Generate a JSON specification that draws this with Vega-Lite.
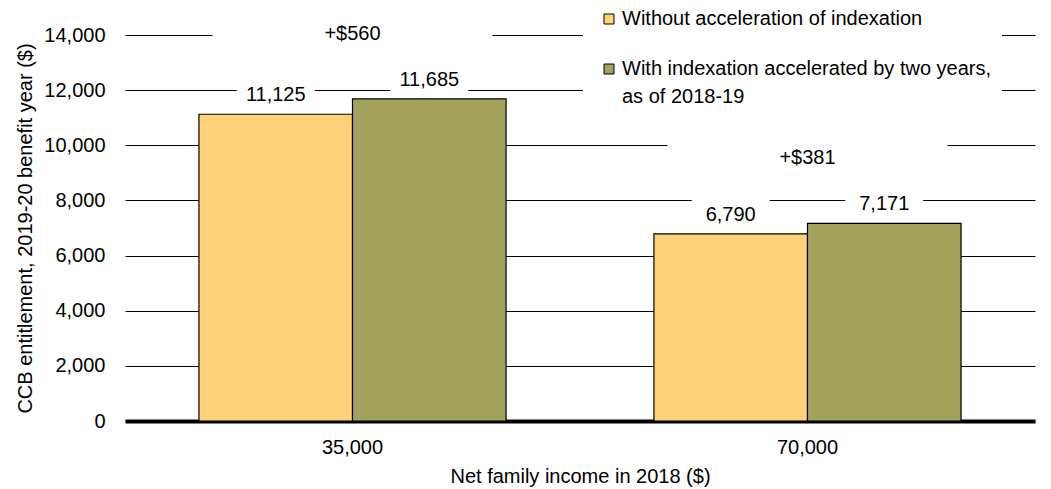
{
  "$schema": "https://vega.github.io/schema/vega-lite/v6.json",
  "width": 910,
  "height": 386,
  "autosize": {"type": "none"},
  "padding": {"left": 125, "top": 35, "right": 16, "bottom": 68},
  "background": "white",
  "config": {
    "font": "Liberation Sans",
    "view": {"stroke": null},
    "text": {"font": "Liberation Sans", "fontSize": 20, "color": "black"},
    "style": {"guide-label": {"lineHeight": 28}}
  },
  "datasets": {
    "bars": [
      {"income": "35,000", "scenario": "Without acceleration of indexation", "value": 11125},
      {"income": "35,000", "scenario": "With indexation accelerated by two years, as of 2018-19", "value": 11685},
      {"income": "70,000", "scenario": "Without acceleration of indexation", "value": 6790},
      {"income": "70,000", "scenario": "With indexation accelerated by two years, as of 2018-19", "value": 7171}
    ],
    "changes": [
      {"income": "35,000", "value": 11685, "change": "+$560"},
      {"income": "70,000", "value": 7171, "change": "+$381"}
    ]
  },
  "encoding": {
    "x": {
      "field": "income",
      "type": "nominal",
      "sort": ["35,000", "70,000"],
      "scale": {"paddingInner": 0.325, "paddingOuter": 0.1625},
      "axis": {
        "title": "Net family income in 2018 ($)",
        "titleFont": "Liberation Sans",
        "titleFontSize": 20,
        "titleFontWeight": "normal",
        "titleColor": "black",
        "titlePadding": 9,
        "labelFont": "Liberation Sans",
        "labelFontSize": 20,
        "labelColor": "black",
        "labelAngle": 0,
        "labelPadding": 16,
        "ticks": false,
        "grid": false,
        "domain": true,
        "domainColor": "black",
        "domainWidth": 4
      }
    },
    "y": {
      "field": "value",
      "type": "quantitative",
      "scale": {"domain": [0, 14000], "nice": false},
      "axis": {
        "title": "CCB entitlement, 2019-20 benefit year ($)",
        "titleFont": "Liberation Sans",
        "titleFontSize": 20,
        "titleFontWeight": "normal",
        "titleColor": "black",
        "titlePadding": 8,
        "labelFont": "Liberation Sans",
        "labelFontSize": 20,
        "labelColor": "black",
        "labelPadding": 20,
        "values": [0, 2000, 4000, 6000, 8000, 10000, 12000, 14000],
        "format": ",d",
        "ticks": false,
        "domain": false,
        "grid": true,
        "gridColor": "black",
        "gridWidth": 1,
        "gridOpacity": 1
      }
    }
  },
  "layer": [
    {
      "data": {"name": "bars"},
      "mark": {"type": "bar", "stroke": "black", "strokeWidth": 1.2, "opacity": 1},
      "encoding": {
        "xOffset": {"field": "scenario", "type": "nominal", "sort": ["Without acceleration of indexation", "With indexation accelerated by two years, as of 2018-19"], "scale": {"paddingInner": 0, "paddingOuter": 0}},
        "color": {
          "field": "scenario",
          "type": "nominal",
          "sort": ["Without acceleration of indexation", "With indexation accelerated by two years, as of 2018-19"],
          "scale": {
            "domain": ["Without acceleration of indexation", "With indexation accelerated by two years, as of 2018-19"],
            "range": ["#FFD27A", "#A2A25C"]
          },
          "legend": {
            "orient": "none",
            "legendX": 458,
            "legendY": -36,
            "title": null,
            "fillColor": "white",
            "padding": 10,
            "symbolType": "square",
            "symbolSize": 100,
            "symbolStrokeColor": "black",
            "symbolStrokeWidth": 1,
            "symbolOffset": 6,
            "symbolOpacity": 1,
            "labelFont": "Liberation Sans",
            "labelFontSize": 20,
            "labelColor": "black",
            "labelLimit": 600,
            "labelOffset": 3,
            "rowPadding": 30,
            "labelExpr": "datum.label == 'Without acceleration of indexation' ? datum.label : ['With indexation accelerated by two years,', 'as of 2018-19']"
          }
        }
      }
    },
    {
      "data": {"name": "bars"},
      "mark": {"type": "point", "shape": "M-1,-0.44L1,-0.44L1,0.44L-1,0.44Z", "size": 6084, "filled": true, "color": "white", "opacity": 1, "strokeWidth": 0, "yOffset": -19},
      "encoding": {
        "xOffset": {"field": "scenario", "type": "nominal", "sort": ["Without acceleration of indexation", "With indexation accelerated by two years, as of 2018-19"]}
      }
    },
    {
      "data": {"name": "bars"},
      "mark": {"type": "text", "dy": -19, "baseline": "middle", "align": "center"},
      "encoding": {
        "xOffset": {"field": "scenario", "type": "nominal", "sort": ["Without acceleration of indexation", "With indexation accelerated by two years, as of 2018-19"]},
        "text": {"field": "value", "type": "quantitative", "format": ","}
      }
    },
    {
      "data": {"name": "changes"},
      "mark": {"type": "point", "shape": "M-1,-0.13L1,-0.13L1,0.13L-1,0.13Z", "size": 78400, "filled": true, "color": "white", "opacity": 1, "strokeWidth": 0, "yOffset": -65}
    },
    {
      "data": {"name": "changes"},
      "mark": {"type": "text", "dy": -65, "baseline": "middle", "align": "center"},
      "encoding": {
        "text": {"field": "change", "type": "nominal"}
      }
    }
  ]
}
